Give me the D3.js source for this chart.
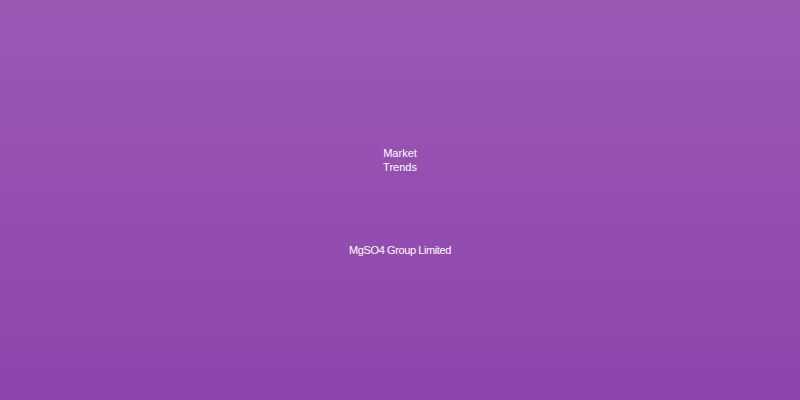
<!DOCTYPE html>
<html lang="en">
<head>
    <meta charset="UTF-8">
    <title>Market Trends</title>
    <style>
        html, body { margin: 0; padding: 0; }
        svg { display: block; }
    </style>
</head>
<body>
    <svg id="chart"></svg>

    <script src="https://d3js.org/d3.v7.min.js"></script>
    <script>
        const width = 800;
        const height = 400;

        // data
        const titleWords = ["Market", "Trends"];
        const footerText = ["MgSO4 Group Limited"];
        const gradientStops = [
            {offset: "0%", color: "#9b59b6"},
            {offset: "100%", color: "#8e44ad"}
        ];

        const svg = d3.select("#chart")
                      .attr("width", width)
                      .attr("height", height);

        const grad = svg.append("defs")
            .append("linearGradient")
            .attr("id", "bg")
            .attr("x1", "0").attr("y1", "0")
            .attr("x2", "0").attr("y2", "1");

        grad.selectAll("stop")
            .data(gradientStops)
            .enter()
            .append("stop")
            .attr("offset", d => d.offset)
            .attr("stop-color", d => d.color);

        svg.append("rect")
            .attr("width", width)
            .attr("height", height)
            .attr("fill", "url(#bg)");

        const title = svg.append("text")
            .attr("x", width / 2)
            .attr("y", 157)
            .attr("text-anchor", "middle")
            .attr("fill", "#fff")
            .style("font-family", "'Liberation Sans', Arial, sans-serif")
            .style("font-size", "11px");

        title.selectAll("tspan")
            .data(titleWords)
            .enter()
            .append("tspan")
            .attr("x", width / 2)
            .attr("dy", (d, i) => i === 0 ? 0 : 14)
            .text(d => d);

        svg.selectAll("text.footer")
            .data(footerText)
            .enter()
            .append("text")
            .attr("class", "footer")
            .attr("x", width / 2)
            .attr("y", 254)
            .attr("text-anchor", "middle")
            .attr("fill", "#fff")
            .style("font-family", "'Liberation Sans', Arial, sans-serif")
            .style("font-size", "11px")
            .style("letter-spacing", "-0.4px")
            .text(d => d);
    </script>
</body>
</html>
